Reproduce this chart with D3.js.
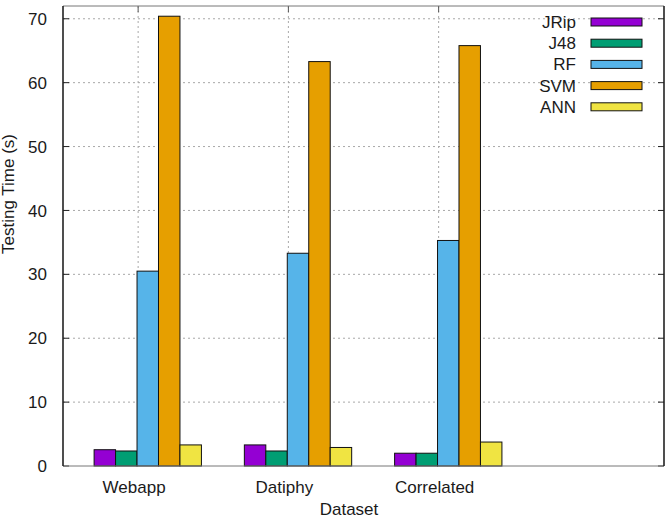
<!DOCTYPE html>
<html>
<head>
<meta charset="utf-8">
<script src="https://cdn.jsdelivr.net/npm/d3@7"></script>
<style>
  body { margin: 0; background: #fff; }
  text { font-family: "Liberation Sans", Arial, sans-serif; fill: #1a1a1a; }
  .grid { stroke: #a8a8a8; stroke-width: 1; stroke-dasharray: 2,3; }
</style>
</head>
<body>
<script>
const datasets = ["Webapp", "Datiphy", "Correlated"];
const methods = ["JRip", "J48", "RF", "SVM", "ANN"];
const colors = ["#9400d3", "#009e73", "#56b4e9", "#e69f00", "#f0e442"];
// testing time (s), one array per method, in dataset order
const jrip = [2.55, 3.3, 2.0];
const j48 = [2.35, 2.35, 2.0];
const rf = [30.5, 33.3, 35.3];
const svm = [70.4, 63.3, 65.8];
const ann = [3.3, 2.9, 3.75];
const yTicks = [0, 10, 20, 30, 40, 50, 60, 70];

const series = [jrip, j48, rf, svm, ann];

const config = {
	width: 667,
	height: 522,
	left: 63,
	right: 664,
	top: 6,
	bottom: 466,
	barWidth: 1 / 7,
	barStart: -0.293
};

const svg = d3.select("body")
	.append("svg")
	.attr("width", config.width)
	.attr("height", config.height);

svg.append("rect")
	.attr("width", config.width)
	.attr("height", config.height)
	.attr("fill", "#fff");

const x = d3.scaleLinear().domain([-0.5, 3.5]).range([config.left, config.right]);
const y = d3.scaleLinear().domain([0, 72]).range([config.bottom, config.top]);

// grid
svg.selectAll(".hgrid")
	.data(yTicks.filter(d => d > 0))
	.join("line")
	.attr("class", "grid")
	.attr("x1", config.left)
	.attr("x2", config.right)
	.attr("y1", d => y(d))
	.attr("y2", d => y(d));

svg.selectAll(".vgrid")
	.data(datasets)
	.join("line")
	.attr("class", "grid")
	.attr("x1", (d, i) => x(i))
	.attr("x2", (d, i) => x(i))
	.attr("y1", config.top)
	.attr("y2", config.bottom);

// ticks
yTicks.forEach(t => {
	svg.append("line")
		.attr("x1", config.left).attr("x2", config.left + 6)
		.attr("y1", y(t)).attr("y2", y(t))
		.attr("stroke", "#222");
	svg.append("line")
		.attr("x1", config.right - 6).attr("x2", config.right)
		.attr("y1", y(t)).attr("y2", y(t))
		.attr("stroke", "#222");
	svg.append("text")
		.attr("x", 47)
		.attr("y", y(t))
		.attr("dy", "0.36em")
		.attr("text-anchor", "end")
		.attr("font-size", 17)
		.text(t);
});

datasets.forEach((d, i) => {
	svg.append("line")
		.attr("x1", x(i)).attr("x2", x(i))
		.attr("y1", config.top).attr("y2", config.top + 6)
		.attr("stroke", "#555");
	svg.append("text")
		.attr("x", x(i) - 4)
		.attr("y", 493)
		.attr("text-anchor", "middle")
		.attr("font-size", 17)
		.text(d);
});

// bars
series.forEach((vals, j) => {
	svg.selectAll(".bar-" + j)
		.data(vals)
		.join("rect")
		.attr("x", (v, i) => x(i + config.barStart + j * config.barWidth))
		.attr("width", x(config.barWidth) - x(0))
		.attr("y", v => y(v))
		.attr("height", v => y(0) - y(v))
		.attr("fill", colors[j])
		.attr("stroke", "#111")
		.attr("stroke-width", 1);
});

// border
svg.append("line")
	.attr("x1", config.left).attr("x2", config.right)
	.attr("y1", config.top).attr("y2", config.top)
	.attr("stroke", "#777");
svg.append("line")
	.attr("x1", config.left).attr("x2", config.right)
	.attr("y1", config.bottom).attr("y2", config.bottom)
	.attr("stroke", "#777");
svg.append("line")
	.attr("x1", config.left).attr("x2", config.left)
	.attr("y1", config.top).attr("y2", config.bottom)
	.attr("stroke", "#222").attr("stroke-width", 1.6);
svg.append("line")
	.attr("x1", config.right).attr("x2", config.right)
	.attr("y1", config.top).attr("y2", config.bottom)
	.attr("stroke", "#222").attr("stroke-width", 1.6);

// axis titles
svg.append("text")
	.attr("transform", "translate(14,194) rotate(-90)")
	.attr("text-anchor", "middle")
	.attr("font-size", 17)
	.text("Testing Time (s)");

svg.append("text")
	.attr("x", 349)
	.attr("y", 515)
	.attr("text-anchor", "middle")
	.attr("font-size", 17)
	.text("Dataset");

// legend
methods.forEach((m, k) => {
	const cy = 22 + k * 21.2;
	svg.append("text")
		.attr("x", 576)
		.attr("y", cy + 6)
		.attr("text-anchor", "end")
		.attr("font-size", 17)
		.text(m);
	svg.append("rect")
		.attr("x", 591)
		.attr("y", cy - 4)
		.attr("width", 51)
		.attr("height", 8)
		.attr("fill", colors[k])
		.attr("stroke", "#111");
});
</script>
</body>
</html>
